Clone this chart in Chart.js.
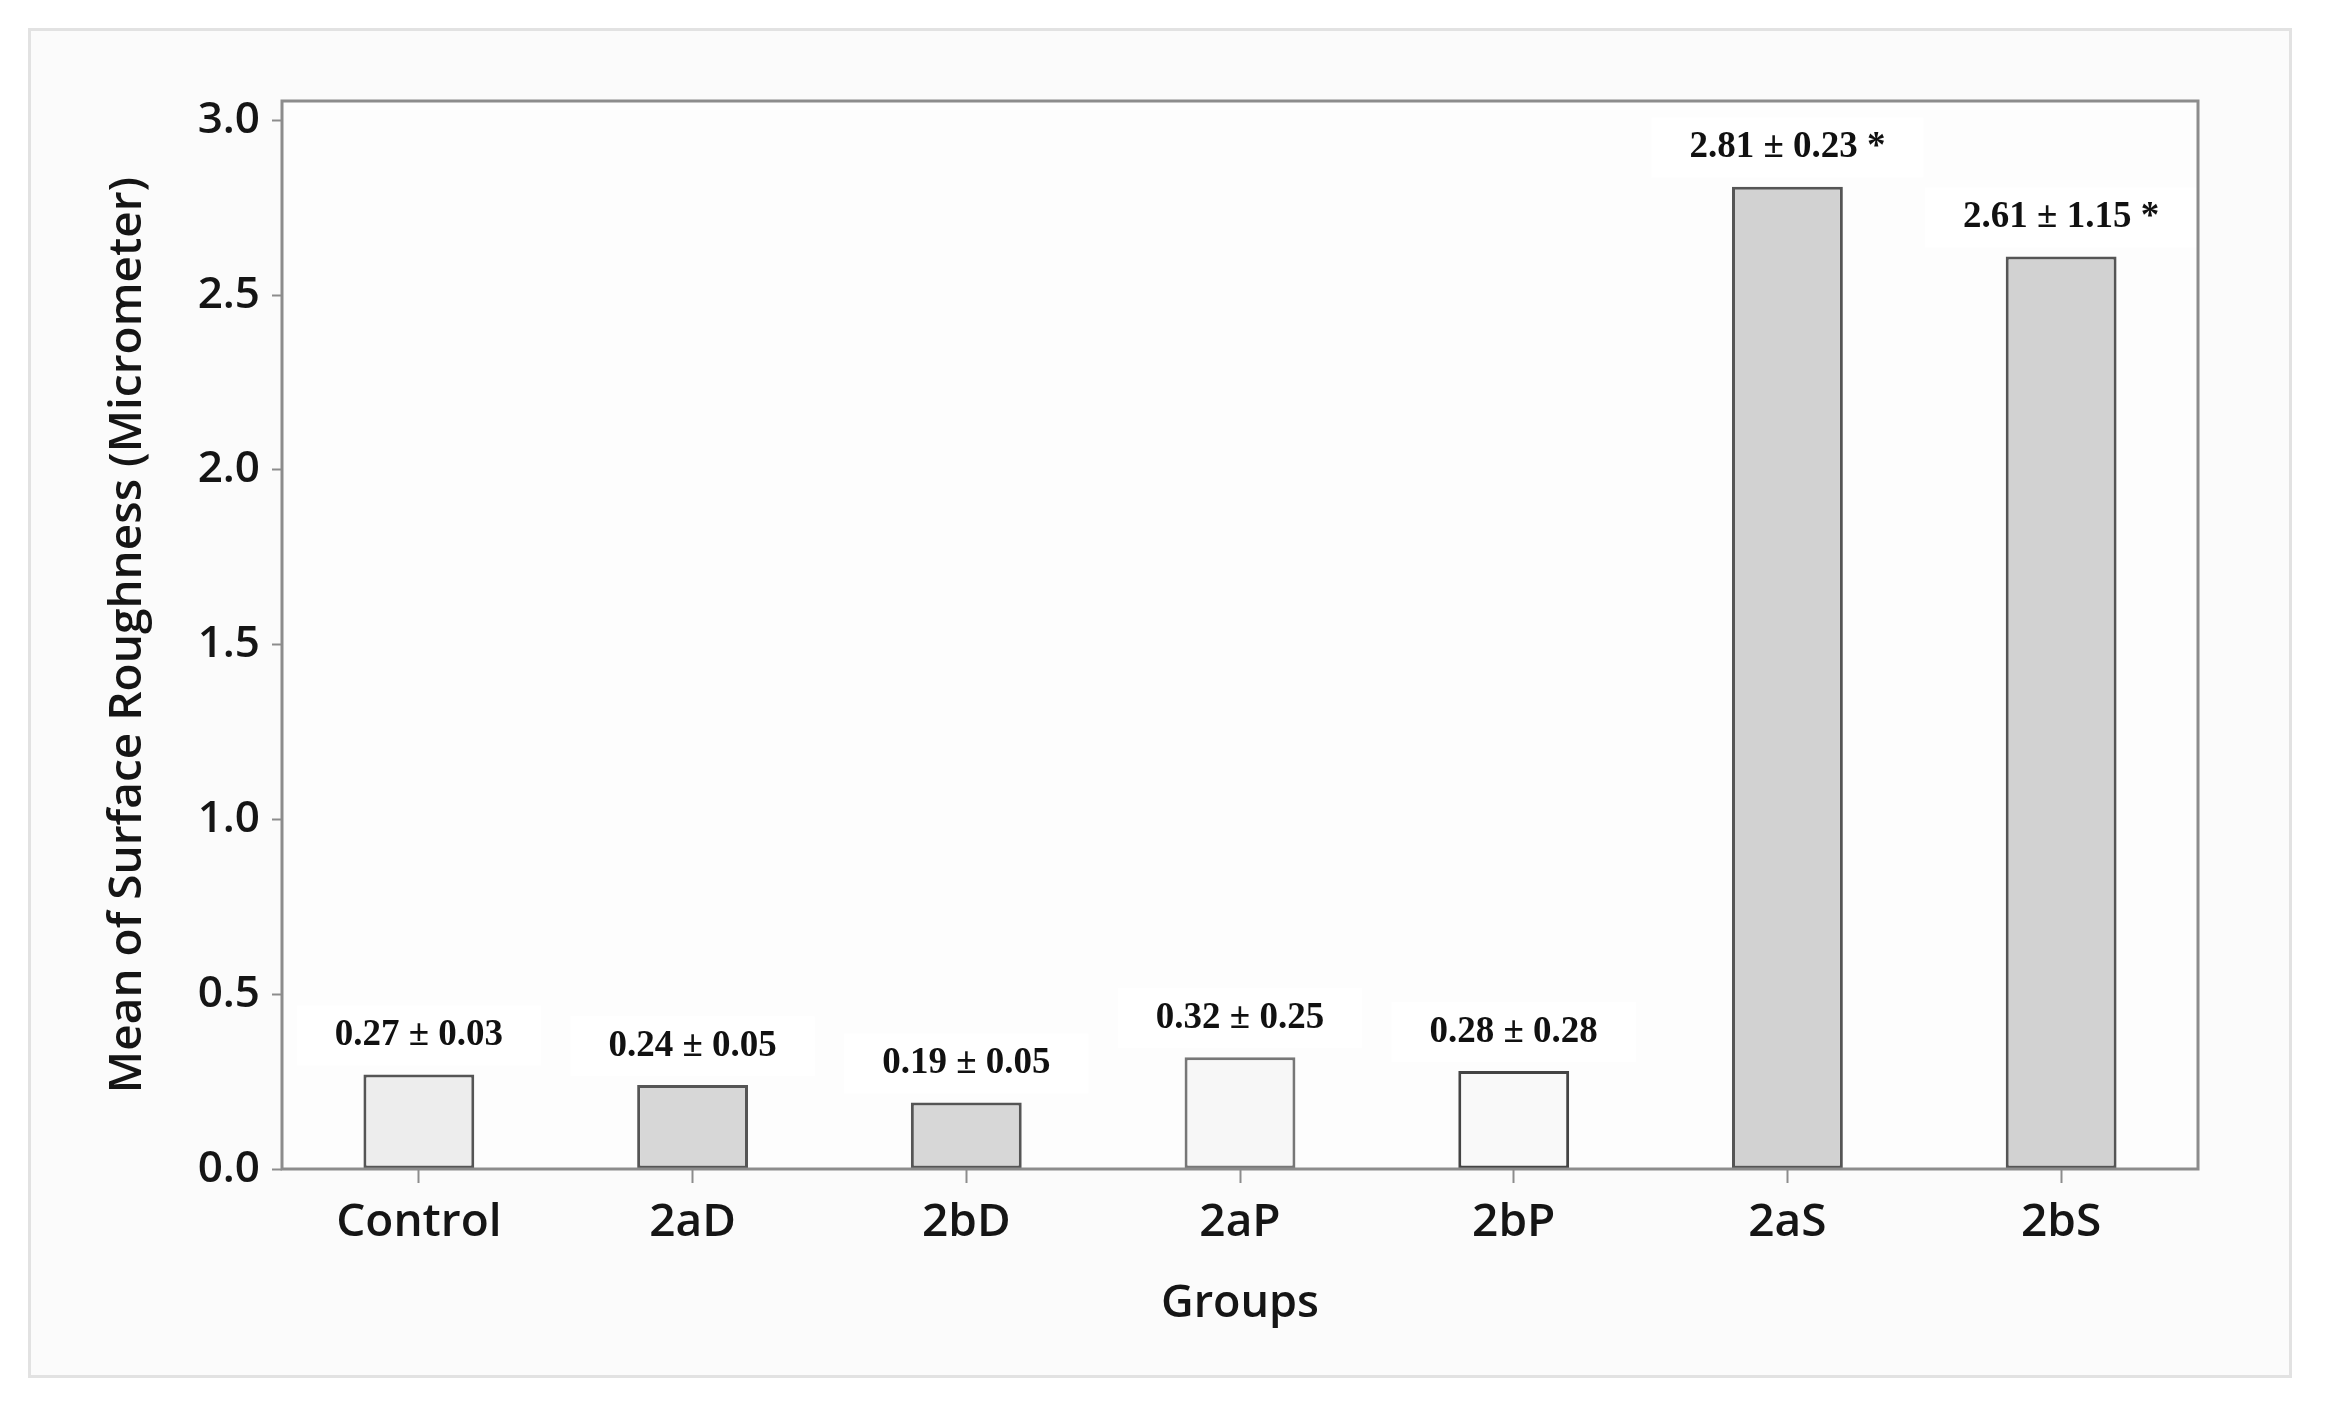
<!DOCTYPE html>
<html lang="en">
<head>
    <meta charset="UTF-8">
    <title>Mean of Surface Roughness by Group</title>
    <script src="https://cdn.jsdelivr.net/npm/chart.js"></script>
    <style>
        body { margin: 0; background: #ffffff; }
        #wrap { position: relative; width: 2326px; height: 1411px; }
        #frame {
            position: absolute; left: 28px; top: 28px; width: 2258px; height: 1344px;
            border: 3px solid #e2e2e2; background: #fbfbfb;
        }
        #chart { position: absolute; left: 0; top: 0; }
    </style>
</head>
<body>
<div id="wrap">
    <div id="frame"></div>
    <canvas id="chart" width="2326" height="1411"></canvas>
</div>

<script>
    // data
    const groups = ['Control', '2aD', '2bD', '2aP', '2bP', '2aS', '2bS'];
    const means = [0.27, 0.24, 0.19, 0.32, 0.28, 2.81, 2.61];
    const sds = [0.03, 0.05, 0.05, 0.25, 0.28, 0.23, 1.15];
    const significant = [false, false, false, false, false, true, true];
    const yTicks = [0, 0.5, 1.0, 1.5, 2.0, 2.5, 3.0];

    // bar styling
    const barFills = ['#ededed', '#d7d7d7', '#d7d7d7', '#f7f7f7', '#f9f9f9', '#d2d2d2', '#d2d2d2'];
    const barEdges = ['#555555', '#555555', '#555555', '#777777', '#444444', '#555555', '#555555'];

    const labels = means.map((m, i) =>
        m.toFixed(2) + ' \u00b1 ' + sds[i].toFixed(2) + (significant[i] ? ' *' : ''));

    const sansFont = "'Open Sans', 'Noto Sans', sans-serif";

    // white boxes + bold serif value labels above each bar
    const valueLabels = {
        id: 'valueLabels',
        afterDatasetsDraw(chart) {
            const ctx = chart.ctx;
            const meta = chart.getDatasetMeta(0);
            ctx.save();
            ctx.font = "bold 37px 'Liberation Serif', 'DejaVu Serif', serif";
            ctx.textAlign = 'center';
            ctx.textBaseline = 'middle';
            meta.data.forEach((bar, i) => {
                const cy = bar.y - 39;
                const w = ctx.measureText(labels[i]).width;
                ctx.fillStyle = '#ffffff';
                ctx.fillRect(bar.x - w / 2 - 38, cy - 30, w + 76, 60);
                ctx.fillStyle = '#111111';
                ctx.fillText(labels[i], bar.x, cy);
            });
            ctx.restore();
        }
    };

    // plot frame and background
    const plotBox = {
        id: 'plotBox',
        beforeDraw(chart) {
            const {ctx, chartArea: a} = chart;
            ctx.save();
            ctx.fillStyle = '#fdfdfd';
            ctx.fillRect(a.left, a.top, a.right - a.left, a.bottom - a.top);
            ctx.restore();
        },
        afterDraw(chart) {
            const {ctx, chartArea: a} = chart;
            ctx.save();
            ctx.strokeStyle = '#8c8c8c';
            ctx.lineWidth = 3;
            ctx.strokeRect(a.left, a.top, a.right - a.left, a.bottom - a.top);
            ctx.restore();
        }
    };

    new Chart(document.getElementById('chart'), {
        type: 'bar',
        data: {
            labels: groups,
            datasets: [{
                data: means,
                backgroundColor: barFills,
                borderColor: barEdges,
                borderWidth: 3,
                borderSkipped: false,
                categoryPercentage: 1,
                barPercentage: 0.405
            }]
        },
        options: {
            responsive: false,
            animation: false,
            layout: { padding: { left: 96, top: 101, right: 128, bottom: 76 } },
            plugins: {
                legend: { display: false },
                tooltip: { enabled: false }
            },
            scales: {
                x: {
                    offset: true,
                    grid: {
                        display: true, drawOnChartArea: false, offset: false,
                        tickLength: 14, tickColor: '#8c8c8c', tickWidth: 2
                    },
                    border: { display: false },
                    ticks: {
                        color: '#151515', padding: 12, maxRotation: 0,
                        font: { family: sansFont, size: 46, weight: 600 }
                    },
                    title: {
                        display: true, text: 'Groups', color: '#151515',
                        padding: { top: 4, bottom: 4 },
                        font: { family: sansFont, size: 45, weight: 600 }
                    },
                    afterFit(axis) { axis.height = 166; }
                },
                y: {
                    min: 0,
                    max: 3.055,
                    afterBuildTicks(axis) {
                        axis.ticks = yTicks.map(v => ({ value: v }));
                    },
                    grid: {
                        display: true, drawOnChartArea: false,
                        tickLength: 10, tickColor: '#8c8c8c', tickWidth: 2
                    },
                    border: { display: false },
                    ticks: {
                        color: '#151515', padding: 12,
                        font: { family: sansFont, size: 44, weight: 600 },
                        callback: v => v.toFixed(1)
                    },
                    title: {
                        display: true, text: 'Mean of Surface Roughness (Micrometer)', color: '#151515',
                        padding: { top: 4, bottom: 4 },
                        font: { family: sansFont, size: 46, weight: 600 }
                    },
                    afterFit(axis) { axis.width = 186; }
                }
            }
        },
        plugins: [plotBox, valueLabels]
    });
</script>
</body>
</html>
